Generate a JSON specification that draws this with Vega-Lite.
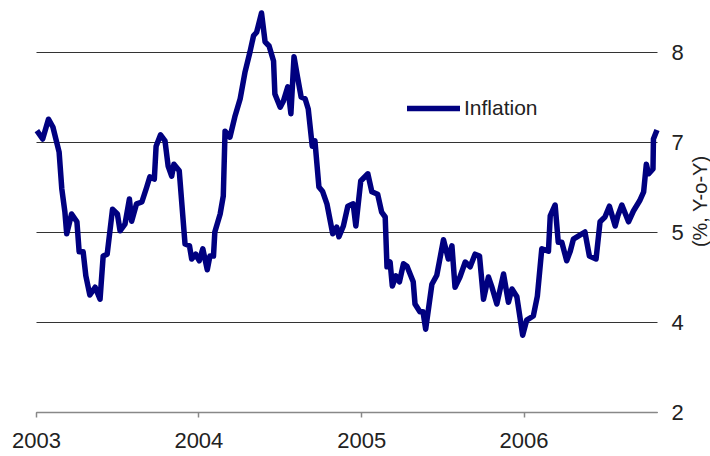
{
  "$schema": "https://vega.github.io/schema/vega-lite/v6.json",
  "width": 621,
  "height": 405,
  "autosize": {"type": "none"},
  "padding": {"left": 36, "top": 7, "right": 53, "bottom": 44},
  "background": "white",
  "config": {
    "view": {"stroke": null},
    "font": "Liberation Sans"
  },
  "data": {
    "values": [
      {"date": "2003-01-03", "value": 6.69},
      {"date": "2003-01-16", "value": 6.55},
      {"date": "2003-01-29", "value": 6.88},
      {"date": "2003-02-08", "value": 6.75},
      {"date": "2003-02-22", "value": 6.33},
      {"date": "2003-02-28", "value": 5.72},
      {"date": "2003-03-07", "value": 5.33},
      {"date": "2003-03-11", "value": 4.97},
      {"date": "2003-03-22", "value": 5.30},
      {"date": "2003-04-03", "value": 5.17},
      {"date": "2003-04-08", "value": 4.67},
      {"date": "2003-04-17", "value": 4.67},
      {"date": "2003-04-23", "value": 4.27},
      {"date": "2003-05-02", "value": 3.95},
      {"date": "2003-05-14", "value": 4.08},
      {"date": "2003-05-25", "value": 3.88},
      {"date": "2003-06-01", "value": 4.60},
      {"date": "2003-06-10", "value": 4.63},
      {"date": "2003-06-22", "value": 5.38},
      {"date": "2003-07-03", "value": 5.30},
      {"date": "2003-07-09", "value": 5.02},
      {"date": "2003-07-20", "value": 5.13},
      {"date": "2003-07-30", "value": 5.55},
      {"date": "2003-08-04", "value": 5.18},
      {"date": "2003-08-15", "value": 5.47},
      {"date": "2003-08-27", "value": 5.50},
      {"date": "2003-09-07", "value": 5.75},
      {"date": "2003-09-14", "value": 5.92},
      {"date": "2003-09-24", "value": 5.88},
      {"date": "2003-09-28", "value": 6.43},
      {"date": "2003-10-08", "value": 6.62},
      {"date": "2003-10-18", "value": 6.52},
      {"date": "2003-10-25", "value": 6.10},
      {"date": "2003-11-02", "value": 5.93},
      {"date": "2003-11-07", "value": 6.13},
      {"date": "2003-11-19", "value": 6.02},
      {"date": "2003-12-02", "value": 4.80},
      {"date": "2003-12-12", "value": 4.77},
      {"date": "2003-12-17", "value": 4.55},
      {"date": "2003-12-26", "value": 4.63},
      {"date": "2004-01-03", "value": 4.52},
      {"date": "2004-01-11", "value": 4.72},
      {"date": "2004-01-21", "value": 4.37},
      {"date": "2004-01-27", "value": 4.60},
      {"date": "2004-02-04", "value": 4.60},
      {"date": "2004-02-07", "value": 5.00},
      {"date": "2004-02-19", "value": 5.30},
      {"date": "2004-02-26", "value": 5.60},
      {"date": "2004-03-01", "value": 6.68},
      {"date": "2004-03-12", "value": 6.58},
      {"date": "2004-03-23", "value": 6.92},
      {"date": "2004-04-04", "value": 7.22},
      {"date": "2004-04-15", "value": 7.67},
      {"date": "2004-04-26", "value": 8.00},
      {"date": "2004-05-04", "value": 8.27},
      {"date": "2004-05-11", "value": 8.33},
      {"date": "2004-05-22", "value": 8.65},
      {"date": "2004-05-30", "value": 8.17},
      {"date": "2004-06-08", "value": 8.10},
      {"date": "2004-06-18", "value": 7.85},
      {"date": "2004-06-21", "value": 7.30},
      {"date": "2004-07-03", "value": 7.08},
      {"date": "2004-07-10", "value": 7.18},
      {"date": "2004-07-20", "value": 7.42},
      {"date": "2004-07-27", "value": 6.97},
      {"date": "2004-08-03", "value": 7.92},
      {"date": "2004-08-11", "value": 7.58},
      {"date": "2004-08-19", "value": 7.25},
      {"date": "2004-08-28", "value": 7.22},
      {"date": "2004-09-04", "value": 7.05},
      {"date": "2004-09-13", "value": 6.43},
      {"date": "2004-09-19", "value": 6.52},
      {"date": "2004-09-28", "value": 5.75},
      {"date": "2004-10-06", "value": 5.68},
      {"date": "2004-10-16", "value": 5.47},
      {"date": "2004-10-29", "value": 4.97},
      {"date": "2004-11-07", "value": 5.08},
      {"date": "2004-11-12", "value": 4.92},
      {"date": "2004-11-22", "value": 5.10},
      {"date": "2004-12-02", "value": 5.43},
      {"date": "2004-12-14", "value": 5.47},
      {"date": "2004-12-20", "value": 5.10},
      {"date": "2004-12-31", "value": 5.85},
      {"date": "2005-01-16", "value": 5.97},
      {"date": "2005-01-25", "value": 5.67},
      {"date": "2005-02-07", "value": 5.63},
      {"date": "2005-02-16", "value": 5.33},
      {"date": "2005-02-24", "value": 5.25},
      {"date": "2005-02-28", "value": 4.42},
      {"date": "2005-03-07", "value": 4.50},
      {"date": "2005-03-12", "value": 4.10},
      {"date": "2005-03-20", "value": 4.27},
      {"date": "2005-03-28", "value": 4.17},
      {"date": "2005-04-06", "value": 4.47},
      {"date": "2005-04-14", "value": 4.43},
      {"date": "2005-04-28", "value": 4.17},
      {"date": "2005-05-02", "value": 3.80},
      {"date": "2005-05-13", "value": 3.67},
      {"date": "2005-05-20", "value": 3.67},
      {"date": "2005-05-26", "value": 3.38},
      {"date": "2005-06-09", "value": 4.13},
      {"date": "2005-06-20", "value": 4.28},
      {"date": "2005-07-05", "value": 4.87},
      {"date": "2005-07-16", "value": 4.55},
      {"date": "2005-07-24", "value": 4.77},
      {"date": "2005-07-31", "value": 4.08},
      {"date": "2005-08-11", "value": 4.25},
      {"date": "2005-08-23", "value": 4.50},
      {"date": "2005-09-03", "value": 4.42},
      {"date": "2005-09-14", "value": 4.63},
      {"date": "2005-09-24", "value": 4.60},
      {"date": "2005-10-03", "value": 3.88},
      {"date": "2005-10-14", "value": 4.25},
      {"date": "2005-10-22", "value": 4.08},
      {"date": "2005-11-02", "value": 3.80},
      {"date": "2005-11-17", "value": 4.30},
      {"date": "2005-11-28", "value": 3.83},
      {"date": "2005-12-06", "value": 4.05},
      {"date": "2005-12-17", "value": 3.92},
      {"date": "2005-12-30", "value": 3.28},
      {"date": "2006-01-08", "value": 3.53},
      {"date": "2006-01-23", "value": 3.60},
      {"date": "2006-02-01", "value": 3.93},
      {"date": "2006-02-11", "value": 4.72},
      {"date": "2006-02-26", "value": 4.68},
      {"date": "2006-03-02", "value": 5.27},
      {"date": "2006-03-13", "value": 5.45},
      {"date": "2006-03-20", "value": 4.83},
      {"date": "2006-03-28", "value": 4.83},
      {"date": "2006-04-08", "value": 4.52},
      {"date": "2006-04-16", "value": 4.68},
      {"date": "2006-04-23", "value": 4.88},
      {"date": "2006-05-04", "value": 4.93},
      {"date": "2006-05-19", "value": 5.00},
      {"date": "2006-05-29", "value": 4.60},
      {"date": "2006-06-13", "value": 4.55},
      {"date": "2006-06-22", "value": 5.17},
      {"date": "2006-07-03", "value": 5.25},
      {"date": "2006-07-13", "value": 5.43},
      {"date": "2006-07-26", "value": 5.10},
      {"date": "2006-08-01", "value": 5.27},
      {"date": "2006-08-10", "value": 5.45},
      {"date": "2006-08-25", "value": 5.17},
      {"date": "2006-09-05", "value": 5.35},
      {"date": "2006-09-19", "value": 5.52},
      {"date": "2006-09-28", "value": 5.67},
      {"date": "2006-10-04", "value": 6.13},
      {"date": "2006-10-09", "value": 5.97},
      {"date": "2006-10-19", "value": 6.05},
      {"date": "2006-10-20", "value": 6.55},
      {"date": "2006-10-28", "value": 6.70}
    ]
  },
  "mark": {"type": "line", "strokeWidth": 5.5, "strokeJoin": "round", "strokeCap": "butt"},
  "encoding": {
    "x": {
      "field": "date",
      "type": "temporal",
      "title": null,
      "scale": {"domain": [{"year": 2003, "month": 1, "date": 1}, {"year": 2006, "month": 10, "date": 28}]},
      "axis": {
        "format": "%Y",
        "tickCount": {"interval": "year", "step": 1},
        "grid": false,
        "domainColor": "#888888",
        "domainWidth": 1.5,
        "tickColor": "#888888",
        "tickWidth": 1.5,
        "tickSize": 5,
        "labelFontSize": 22,
        "labelColor": "#222222",
        "labelPadding": 13,
        "labelFlush": false
      }
    },
    "y": {
      "field": "value",
      "type": "quantitative",
      "scale": {"domain": [2, 8.75], "nice": false, "zero": false},
      "axis": {
        "orient": "right",
        "values": [2, 3.5, 5, 6.5, 8],
        "format": ".0f",
        "grid": true,
        "gridColor": "#333333",
        "gridWidth": 1,
        "domain": false,
        "ticks": false,
        "labelFontSize": 22,
        "labelColor": "#222222",
        "labelPadding": 14,
        "title": "(%, Y-o-Y)",
        "titleFontSize": 20,
        "titleFontWeight": "normal",
        "titleColor": "#222222",
        "titleAngle": 270,
        "titleAlign": "center",
        "titleBaseline": "middle",
        "titleX": 43,
        "titleY": 194
      }
    },
    "color": {
      "datum": "Inflation",
      "type": "nominal",
      "scale": {"range": ["#000080"]},
      "legend": {
        "title": null,
        "orient": "none",
        "legendX": 368,
        "legendY": 72,
        "symbolType": "stroke",
        "symbolSize": 2809,
        "symbolStrokeWidth": 5.5,
        "labelFontSize": 21,
        "labelColor": "#222222",
        "labelOffset": 1,
        "padding": 0
      }
    }
  }
}
